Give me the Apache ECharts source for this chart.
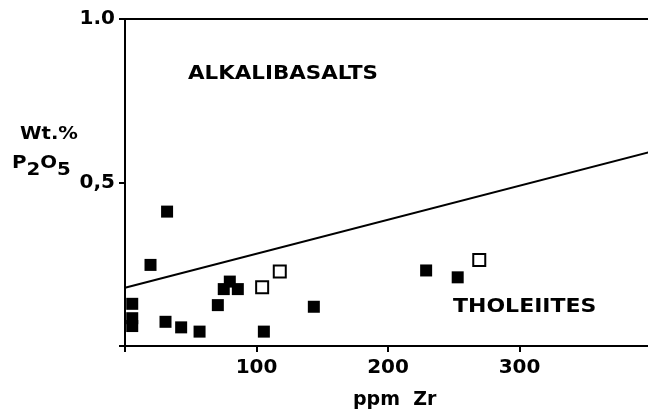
<!DOCTYPE html>
<html>
<head>
<meta charset="utf-8">
<script src="https://cdn.jsdelivr.net/npm/echarts@6/dist/echarts.min.js"></script>
<style>
  html, body { margin: 0; padding: 0; background: #fff; }
  #chart { width: 648px; height: 414px; }
</style>
</head>
<body>
<div id="chart"></div>
<script>
(function() {
  var ink = '#000';
  var font = '"DejaVu Sans", "Liberation Sans", sans-serif';

  // filled squares: [ppm Zr, wt.% P2O5]
  var filledPts = [
    [32, 0.411], [19.4, 0.248], [5.5, 0.129], [5.5, 0.085], [5.5, 0.061],
    [30.8, 0.074], [42.7, 0.057], [56.7, 0.044], [70.6, 0.125], [75.1, 0.174],
    [79.7, 0.197], [85.8, 0.174], [105.6, 0.044], [143.6, 0.12],
    [229, 0.231], [253, 0.21]
  ];
  // open squares
  var openPts = [[104.3, 0.18], [117.7, 0.228], [269.4, 0.263]];
  // dividing line
  var dividePts = [[0, 0.178], [400, 0.594]];
  var xTicks = [100, 200, 300];
  var yTicks = [0.5, 1.0];

  function label(text, x, y, size, sx) {
    return { type: 'text', x: x, y: y, scaleX: sx, silent: true,
      style: { text: text, font: 'bold ' + size + 'px ' + font, fill: ink } };
  }

  var chart = echarts.init(document.getElementById('chart'), null, { renderer: 'canvas' });
  chart.setOption({
    animation: false,
    backgroundColor: '#fff',
    grid: { left: 125, top: 19, width: 526, height: 327, show: true, borderColor: ink, borderWidth: 2,
      outerBoundsMode: 'none', containLabel: false },
    xAxis: {
      type: 'value', min: 0, max: 400, interval: 100,
      axisLine: { show: true, lineStyle: { color: ink, width: 2 } },
      axisTick: { show: true, length: 6, lineStyle: { color: ink, width: 2 },
        interval: function(i, v) { return xTicks.indexOf(+v) >= 0; } },
      axisLabel: { color: ink, fontFamily: font, fontWeight: 'bold', fontSize: 20, margin: 12,
        formatter: function(v) { return xTicks.indexOf(v) >= 0 ? String(v) : ''; } },
      splitLine: { show: false }
    },
    yAxis: {
      type: 'value', min: 0, max: 1, interval: 0.5,
      axisLine: { show: true, onZero: false, lineStyle: { color: ink, width: 2 } },
      axisTick: { show: true, length: 6, lineStyle: { color: ink, width: 2 } },
      axisLabel: { color: ink, fontFamily: font, fontWeight: 'bold', fontSize: 20, margin: 10,
        formatter: function(v) { return yTicks.indexOf(v) >= 0 ? v.toFixed(1).replace('.', v === 1 ? '.' : ',') : ''; } },
      splitLine: { show: false }
    },
    series: [
      {
        type: 'line', data: dividePts, symbol: 'none',
        lineStyle: { color: ink, width: 2, opacity: 1 }, silent: true
      },
      {
        type: 'scatter', data: filledPts, symbol: 'rect', symbolSize: 12,
        itemStyle: { color: ink, opacity: 1 }
      },
      {
        type: 'scatter', data: openPts, symbol: 'rect', symbolSize: 12,
        itemStyle: { color: '#fff', borderColor: ink, borderWidth: 2, opacity: 1 }
      }
    ],
    graphic: [
      label('ALKALIBASALTS', 188, 64, 20, 1.07),
      label('THOLEIITES', 453, 297, 20, 1.1),
      label('Wt.%', 20, 126, 17, 1.15),
      label('ppm  Zr', 353, 391, 19, 1.0),
      { type: 'text', x: 12, y: 154, scaleX: 1.1, silent: true, style: {
          text: '{n|P}{s|2}{n|O}{s|5}',
          rich: {
            n: { fontFamily: font, fontWeight: 'bold', fontSize: 18, color: ink, verticalAlign: 'top' },
            s: { fontFamily: font, fontWeight: 'bold', fontSize: 18, color: ink, padding: [7, 0, 0, 0] }
          }
      } }
    ]
  });
  window.addEventListener('resize', function() { chart.resize(); });
})();
</script>
</body>
</html>
